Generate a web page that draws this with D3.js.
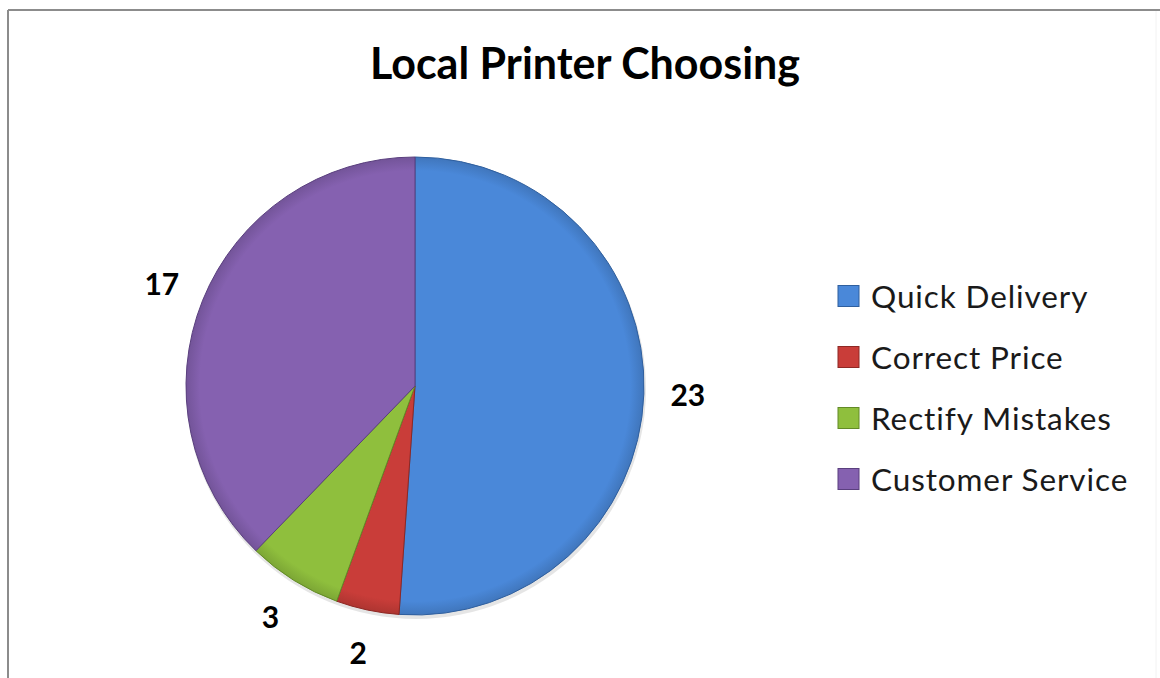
<!DOCTYPE html>
<html>
<head>
<meta charset="utf-8">
<script src="https://cdn.jsdelivr.net/npm/d3@7"></script>
<style>
  html, body { margin: 0; padding: 0; background: #fff; }
  svg { display: block; font-family: Lato, "Open Sans", sans-serif; }
</style>
</head>
<body>
<svg id="chart" width="1160" height="678"></svg>
<script>
// Survey answers: what matters when choosing a local printer
const categories = ["Quick Delivery", "Correct Price", "Rectify Mistakes", "Customer Service"];
const counts = [23, 2, 3, 17];
const sliceColors = ["#4a88d9", "#c93d39", "#8fbf3d", "#8561b0"];
const edgeColors = ["#2f5f9e", "#8e2824", "#628a26", "#5a3f7e"];
const titleText = "Local Printer Choosing";

const svg = d3.select("#chart");
const W = 1160, H = 678;

// frame
svg.append("line").attr("x1", 8).attr("y1", 10).attr("x2", W).attr("y2", 10)
  .attr("stroke", "#8c8c8c").attr("stroke-width", 2);
svg.append("line").attr("x1", 8).attr("y1", 10).attr("x2", 8).attr("y2", H)
  .attr("stroke", "#8c8c8c").attr("stroke-width", 2);
svg.append("line").attr("x1", 1156).attr("y1", 11).attr("x2", 1156).attr("y2", H)
  .attr("stroke", "#f2f2f2").attr("stroke-width", 1);

// title
svg.append("text")
  .attr("x", 585).attr("y", 79)
  .attr("text-anchor", "middle")
  .attr("font-size", 43).attr("font-weight", "bold")
  .attr("fill", "#000")
  .text(titleText);

const cx = 415, cy = 386, R = 229;
const data = categories.map((c, i) => ({ name: c, value: counts[i], i }));

const pie = d3.pie().value(d => d.value).sort(null);
const arcs = pie(data);
const arc = d3.arc().innerRadius(0).outerRadius(R);
const labelArc = d3.arc().innerRadius(273).outerRadius(273);

// bevelled rim: flat fill with a darker band at the outer edge
const defs = svg.append("defs");
sliceColors.forEach((col, i) => {
  const g = defs.append("radialGradient").attr("id", "sl" + i)
    .attr("gradientUnits", "userSpaceOnUse")
    .attr("cx", 0).attr("cy", 0).attr("r", R);
  g.append("stop").attr("offset", "0%").attr("stop-color", col);
  g.append("stop").attr("offset", "94%").attr("stop-color", col);
  g.append("stop").attr("offset", "100%").attr("stop-color", d3.color(col).darker(0.4));
});

const gPie = svg.append("g").attr("transform", `translate(${cx},${cy})`);

// soft shadow under the disc
gPie.append("circle").attr("cx", 1).attr("cy", 3).attr("r", R + 1)
  .attr("fill", "#000").attr("opacity", 0.1);

gPie.selectAll("path.slice").data(arcs).enter().append("path")
  .attr("class", "slice")
  .attr("d", arc)
  .attr("fill", d => `url(#sl${d.data.i})`)
  .attr("stroke", d => edgeColors[d.data.i])
  .attr("stroke-width", 1)
  .attr("stroke-linejoin", "round");

// value labels
gPie.selectAll("text.val").data(arcs).enter().append("text")
  .attr("class", "val")
  .attr("transform", d => `translate(${labelArc.centroid(d)})`)
  .attr("text-anchor", "middle")
  .attr("dy", "0.36em")
  .attr("font-size", 30).attr("font-weight", "bold")
  .attr("fill", "#000")
  .text(d => d.data.value);

// legend
const legendY = d3.scaleBand().domain(categories).range([266, 510]).paddingInner(0);
const leg = svg.append("g");
const rows = leg.selectAll("g").data(data).enter().append("g")
  .attr("transform", d => `translate(838, ${legendY(d.name) + legendY.bandwidth() / 2})`);
rows.append("rect")
  .attr("x", 0).attr("y", -11).attr("width", 21).attr("height", 21)
  .attr("fill", d => sliceColors[d.i])
  .attr("stroke", d => edgeColors[d.i]).attr("stroke-width", 1);
rows.append("text")
  .attr("x", 33).attr("y", 0).attr("dy", "0.36em")
  .attr("font-size", 31.5).attr("letter-spacing", 0.9).attr("fill", "#1a1a1a")
  .text(d => d.name);
</script>
</body>
</html>
